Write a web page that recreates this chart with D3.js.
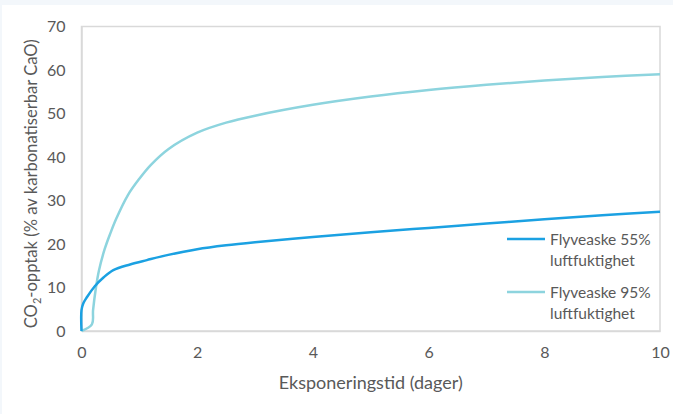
<!DOCTYPE html>
<html><head><meta charset="utf-8">
<script src="https://cdnjs.cloudflare.com/ajax/libs/d3/7.8.5/d3.min.js"></script>
<style>
html,body{margin:0;padding:0;background:#fff;}
svg{display:block;font-family:Lato,"Open Sans",sans-serif;}
</style></head><body>
<script>
const xTicks = [0, 2, 4, 6, 8, 10];
const yTicks = [0, 10, 20, 30, 40, 50, 60, 70];
const days55 = [0, 0, 0.03, 0.09, 0.23, 0.38, 0.55, 0.84, 1.13, 1.5, 2, 2.5, 3, 4, 5, 6, 7, 8, 9, 10];
const vals55 = [0, 4.8, 6.3, 7.7, 10.3, 12.3, 14.0, 15.3, 16.3, 17.5, 18.8, 19.7, 20.4, 21.6, 22.7, 23.7, 24.7, 25.7, 26.6, 27.4];
const days95 = [0, 0.18, 0.2, 0.25, 0.3, 0.4, 0.5, 0.6, 0.8, 1.0, 1.2, 1.5, 2, 2.5, 3, 4, 5, 6, 7, 8, 9, 10];
const vals95 = [0, 1.5, 4.8, 10.0, 13.8, 18.8, 22.5, 25.8, 31.2, 35.0, 38.2, 41.8, 45.6, 47.9, 49.5, 52.0, 53.9, 55.4, 56.6, 57.6, 58.4, 59.0];
const seriesNames = ["Flyveaske 55%|luftfuktighet", "Flyveaske 95%|luftfuktighet"];
const seriesColors = ["#1ba1e2", "#8dd4de"];

const W = 673, H = 414;
const svg = d3.select("body").append("svg").attr("width", W).attr("height", H);
svg.append("rect").attr("width", W).attr("height", H).attr("fill", "#f3f7fb");
svg.append("rect").attr("x", 2).attr("y", 5).attr("width", W - 2).attr("height", H - 5).attr("fill", "#fff");

const x = d3.scaleLinear().domain([0, 10]).range([81.5, 660]);
const y = d3.scaleLinear().domain([0, 70]).range([331, 26.5]);

// plot frame
svg.append("rect").attr("x", x(0)).attr("y", y(70)).attr("width", x(10) - x(0)).attr("height", y(0) - y(70))
  .attr("fill", "none").attr("stroke", "#d9d9d9").attr("stroke-width", 1.5);

const tc = "#595959";
const xAxis = svg.append("g").attr("transform", `translate(0,${y(0)})`)
  .call(d3.axisBottom(x).tickValues(xTicks).tickSize(0).tickPadding(16).tickFormat(d3.format("d")));
xAxis.select(".domain").attr("stroke", "#d9d9d9").attr("stroke-width", 1.5);
xAxis.selectAll("text").attr("fill", tc).style("font-size", "16px").style("font-family", "Lato");

const yAxis = svg.append("g").attr("transform", `translate(${x(0)},0)`)
  .call(d3.axisLeft(y).tickValues(yTicks).tickSize(0).tickPadding(16).tickFormat(d3.format("d")));
yAxis.select(".domain").attr("stroke", "#d9d9d9").attr("stroke-width", 1.5);
yAxis.selectAll("text").attr("fill", tc).style("font-size", "16px").style("font-family", "Lato");

const data95 = days95.map((d, i) => [d, vals95[i]]);
const data55 = days55.map((d, i) => [d, vals55[i]]);
const curveLine = d3.line().x(d => x(d[0])).y(d => y(d[1])).curve(d3.curveCatmullRom.alpha(0.5));
svg.append("path").datum(data95).attr("d", curveLine)
  .attr("fill", "none").attr("stroke", seriesColors[1]).attr("stroke-width", 2.5).attr("stroke-linejoin", "round");
svg.append("path").datum(data55).attr("d", curveLine)
  .attr("fill", "none").attr("stroke", seriesColors[0]).attr("stroke-width", 2.5).attr("stroke-linejoin", "round");

// axis titles
svg.append("text").attr("x", (x(0) + x(10)) / 2).attr("y", 389).attr("text-anchor", "middle")
  .attr("fill", tc).style("font-size", "18px").text("Eksponeringstid (dager)");
const yt = svg.append("text").attr("transform", `translate(37,${(y(0) + y(70)) / 2 + 5}) rotate(-90)`)
  .attr("text-anchor", "middle").attr("fill", tc).style("font-size", "16.6px");
yt.append("tspan").text("CO");
yt.append("tspan").attr("dy", 4).style("font-size", "11px").text("2");
yt.append("tspan").attr("dy", -4).text("-opptak (% av karbonatiserbar CaO)");

// legend
const legY = [239, 292];
seriesNames.forEach((n, i) => {
  const g = svg.append("g");
  g.append("line").attr("x1", 507).attr("x2", 545).attr("y1", legY[i]).attr("y2", legY[i])
    .attr("stroke", seriesColors[i]).attr("stroke-width", 2.5);
  const parts = n.split("|");
  parts.forEach((p, j) => {
    g.append("text").attr("x", 550).attr("y", legY[i] + 6 + j * 20.5).attr("fill", tc)
      .style("font-size", "15.5px").text(p);
  });
});
</script>
</body></html>
